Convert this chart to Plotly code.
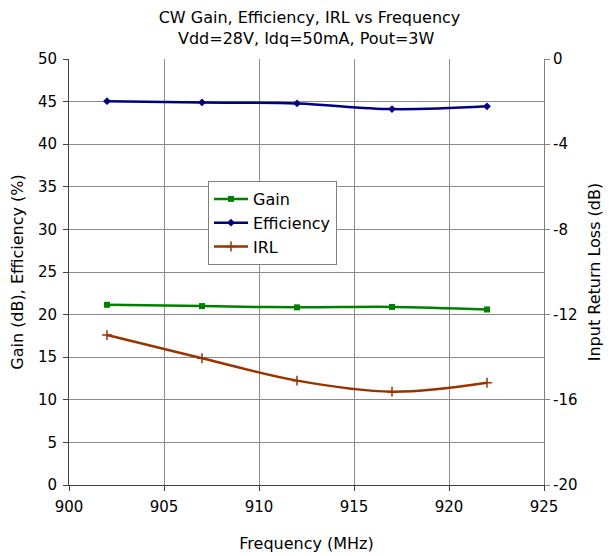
import plotly.graph_objects as go

freq = [902, 907, 912, 917, 922]
gain = [21.15, 21.0, 20.85, 20.9, 20.6]
efficiency = [45.05, 44.9, 44.78, 44.12, 44.45]
irl = [-12.96, -14.05, -15.1, -15.62, -15.2]

x_ticks = [900, 905, 910, 915, 920, 925]
left_ticks = [0, 5, 10, 15, 20, 25, 30, 35, 40, 45, 50]
right_ticks = [-20, -16, -12, -8, -4, 0]

title_line1 = "CW Gain, Efficiency, IRL vs Frequency"
title_line2 = "Vdd=28V, Idq=50mA, Pout=3W"

font_family = "DejaVu Sans, Liberation Sans, Arial, sans-serif"
grid_col = "#8c8c8c"
axis_dark = "#404040"

fig = go.Figure()
fig.add_trace(go.Scatter(x=freq, y=gain, name="Gain", mode="lines+markers", legendgroup="g1",
                         line=dict(color="#008000", width=2.5, shape="spline", smoothing=1),
                         marker=dict(symbol="square", size=6, color="#008000")))
fig.add_trace(go.Scatter(x=freq, y=efficiency, name="Efficiency", mode="lines+markers", legendgroup="g2",
                         line=dict(color="#000080", width=2.5, shape="spline", smoothing=1),
                         marker=dict(symbol="diamond", size=6, color="#000080")))
fig.add_trace(go.Scatter(x=freq, y=irl, name="IRL", mode="lines+markers", yaxis="y2", legendgroup="g3",
                         line=dict(color="#993300", width=2.5, shape="spline", smoothing=1),
                         marker=dict(symbol="cross-thin", size=7, color="#993300",
                                     line=dict(color="#993300", width=1.5))))

fig.update_layout(
    width=603, height=548,
    margin=dict(l=61, r=67, t=51, b=71, autoexpand=False),
    paper_bgcolor="white", plot_bgcolor="white",
    font=dict(family=font_family, size=15, color="black"),
    title=dict(text=title_line1, x=0.5, xanchor="center", y=1 - 9 / 548, yanchor="middle",
               yref="container", font=dict(size=16, family=font_family)),
    annotations=[dict(text=title_line2, xref="paper", yref="paper", x=0.5, y=1.0492,
                      xanchor="center", yanchor="middle", showarrow=False,
                      font=dict(size=16, family=font_family))],
    showlegend=True,
    legend=dict(x=0.2926, y=0.7136, xanchor="left", yanchor="top",
                bgcolor="white", bordercolor="#808080", borderwidth=1,
                font=dict(size=16, family=font_family),
                itemwidth=34, tracegroupgap=9, traceorder="normal"),
    xaxis=dict(range=[900, 925], tickvals=x_ticks, ticktext=[str(v) for v in x_ticks],
               showgrid=True, gridcolor=grid_col, gridwidth=1, automargin=False,
               showline=True, linecolor=axis_dark, linewidth=1,
               ticks="outside", ticklen=5, tickcolor=axis_dark, tickfont=dict(size=15),
               ticklabelstandoff=3,
               title=dict(text="Frequency (MHz)", standoff=22, font=dict(size=16)), zeroline=False),
    yaxis=dict(range=[0, 50], tickvals=left_ticks, ticktext=[str(v) for v in left_ticks],
               showgrid=True, gridcolor=grid_col, gridwidth=1, automargin=False,
               showline=True, linecolor=axis_dark, linewidth=1,
               ticks="outside", ticklen=5, tickcolor=axis_dark, tickfont=dict(size=15),
               ticklabelstandoff=3,
               title=dict(text="Gain (dB), Efficiency (%)", standoff=18, font=dict(size=16)), zeroline=False),
    yaxis2=dict(range=[-20, 0], tickvals=right_ticks, ticktext=[str(v) for v in right_ticks],
                overlaying="y", side="right", showgrid=False, automargin=False,
                showline=True, linecolor="#808080", linewidth=1,
                ticks="outside", ticklen=5, tickcolor="#808080", tickfont=dict(size=15),
                title=dict(text="Input Return Loss (dB)", standoff=12, font=dict(size=16)), zeroline=False),
)

fig.write_html("out.html")
